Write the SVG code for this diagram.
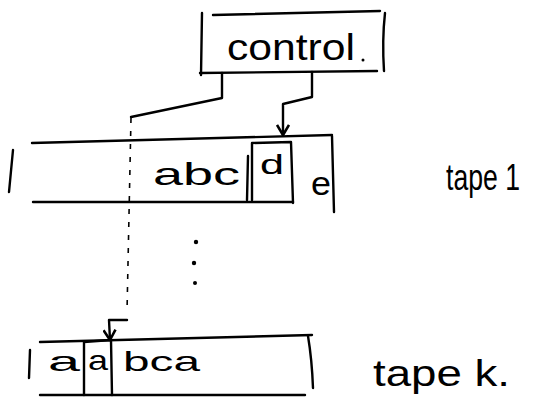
<svg xmlns="http://www.w3.org/2000/svg" width="555" height="403" viewBox="0 0 555 403">
<style>
.s{fill:none;stroke:#000;stroke-width:2.4;stroke-linecap:round;stroke-linejoin:round}
.t{font-family:"Liberation Sans",Arial,sans-serif;fill:#000}
.d{fill:none;stroke:#000;stroke-width:1.6;stroke-dasharray:5 8}
</style>
<defs>
<marker id="ah" viewBox="0 0 12 14" refX="11" refY="7" markerWidth="12" markerHeight="14" markerUnits="userSpaceOnUse" orient="auto">
<path d="M1,1 L11,7 L1,13" fill="none" stroke="#000" stroke-width="2.6" stroke-linejoin="round"/>
</marker>
</defs>
<rect width="555" height="403" fill="#fff"/>
<g id="control">
<path class="s" d="M202,13 L201,75"/>
<path class="s" d="M213,15 L380,11"/>
<path class="s" d="M200,73 L377,71"/>
<path class="s" d="M385,13 Q382,40 384,71"/>
<text class="t" x="227" y="60" font-size="36" textLength="128" lengthAdjust="spacingAndGlyphs">control</text>
<circle cx="363" cy="60" r="1.5" fill="#000"/>
</g>
<g id="connectors">
<path class="s" d="M222,73 L222,98 L131,117"/>
<path class="d" d="M131,118 L127,312"/>
<path class="s" d="M127,320 L109,320 L110,340" marker-end="url(#ah)"/>
<path class="s" d="M312,72 L312,97 L283,104 L283,135" marker-end="url(#ah)"/>
</g>
<g id="tape1">
<path class="s" d="M13,150 L9,192"/>
<path class="s" d="M32,143 L332,135"/>
<path class="s" d="M33,202 L293,202"/>
<path class="s" d="M332,136 L334,212"/>
<text class="t" x="153" y="185" font-size="32" textLength="87" lengthAdjust="spacingAndGlyphs">abc</text>
<path class="s" d="M248,156 L247,200"/>
<path class="s" d="M252,200 L252,143 L291,142 L293,203"/>
<text class="t" x="260" y="174" font-size="28" textLength="24" lengthAdjust="spacingAndGlyphs">d</text>
<text class="t" x="311" y="195" font-size="34" textLength="20" lengthAdjust="spacingAndGlyphs">e</text>
</g>
<g id="dots">
<circle cx="196" cy="242" r="2.2" fill="#000"/>
<circle cx="194" cy="263" r="2.2" fill="#000"/>
<circle cx="195" cy="283" r="2" fill="#000"/>
</g>
<text class="t" x="446" y="190" font-size="36" textLength="74" lengthAdjust="spacingAndGlyphs">tape 1</text>
<g id="tapek">
<path class="s" d="M30,350 L29,378"/>
<path class="s" d="M40,342 L312,335"/>
<path class="s" d="M40,395 L305,395"/>
<path class="s" d="M308,336 Q312,360 313,388"/>
<text class="t" x="48" y="371" font-size="28" textLength="32" lengthAdjust="spacingAndGlyphs">a</text>
<path class="s" d="M84,395 L84,342 L111,340 L112,395"/>
<text class="t" x="88" y="370" font-size="28" textLength="20" lengthAdjust="spacingAndGlyphs">a</text>
<text class="t" x="123" y="371" font-size="28" textLength="77" lengthAdjust="spacingAndGlyphs">bca</text>
</g>
<text class="t" x="373" y="386" font-size="36" textLength="137" lengthAdjust="spacingAndGlyphs">tape k.</text>
</svg>
